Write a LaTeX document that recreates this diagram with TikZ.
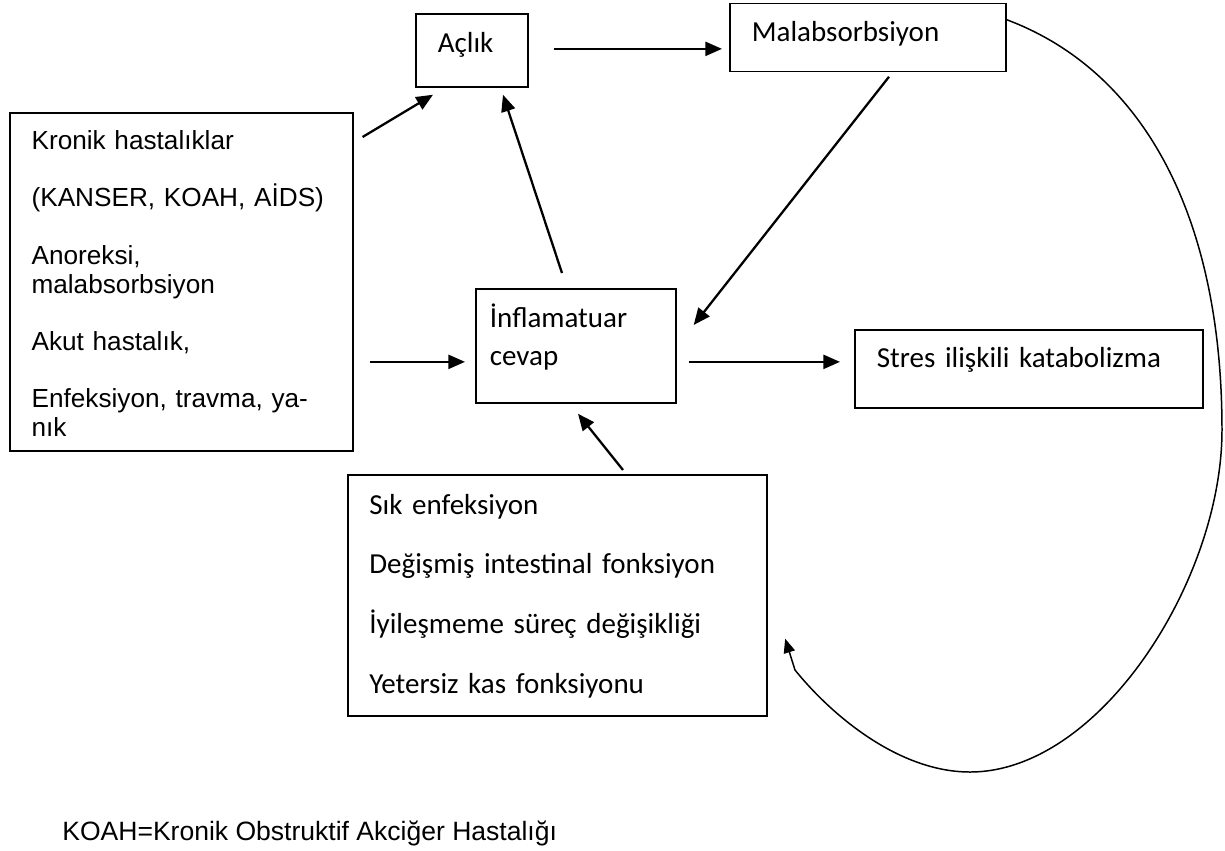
\documentclass[tikz,border=0pt]{standalone}
\usepackage{fontspec}
\setmainfont{Carlito}
\newfontfamily\arialfont{Liberation Sans}
\usetikzlibrary{calc,arrows.meta}

\tikzset{
  box/.style={draw, line width=1pt, anchor=north west, inner ysep=0pt, align=left,
    font=\fontsize{16.5}{20}\selectfont},
  listbox/.style={box, font=\arialfont\fontsize{14.9}{16.5}\selectfont},
  arr/.style={line width=1.3pt, -{Triangle[length=9.5pt,width=8pt]}},
  loop/.style={line width=0.85pt, -{Triangle[length=8pt,width=6.5pt]}}
}

\begin{document}
\begin{tikzpicture}[x=0.02cm, y=-0.02cm]
      \useasboundingbox (0,0) rectangle (1225,850);
      % boxes
      \node[listbox, inner xsep=0.434cm, text width=5.99cm, text height=0.726cm, text depth=6.034cm] (chronic) at (9,112)
        {Kronik hastalıklar\\[16.2pt]
         (KANSER, KOAH, AİDS)\\[16.2pt]
         Anoreksi,\\
         malabsorbsiyon\\[16.2pt]
         Akut hastalık,\\[16.2pt]
         Enfeksiyon, travma, ya-\\
         nık};
      \node[box, inner xsep=0.44cm, text width=1.36cm, text height=0.774cm, text depth=0.686cm] (aclik) at (415,13) {Açlık};
      \node[box, inner xsep=0.44cm, text width=4.64cm, text height=0.76cm, text depth=0.60cm] (malab) at (729,2.7) {Malabsorbsiyon};
      \node[box, inner xsep=0.28cm, text width=3.44cm, text height=0.774cm, text depth=1.506cm] (inflam) at (475,288)
        {İnflamatuar\\[1.8pt] cevap};
      \node[box, inner xsep=0.44cm, text width=6.08cm, text height=0.754cm, text depth=0.806cm] (stres) at (854,329) {Stres ilişkili katabolizma};
      \node[box, inner xsep=0.43cm, text width=7.53cm, text height=0.786cm, text depth=4.034cm] (effects) at (347,474)
        {Sık enfeksiyon\\[14pt]
         Değişmiş intestinal fonksiyon\\[14pt]
         İyileşmeme süreç değişikliği\\[14pt]
         Yetersiz kas fonksiyonu};
      \node[anchor=base west, inner sep=0pt, font=\arialfont\fontsize{15.1}{17}\selectfont] (koah) at (62,840)
        {KOAH=Kronik Obstruktif Akciğer Hastalığı};
      % arrows
      \draw[arr] ($(chronic.north east)+(9,25)$) -- ($(aclik.south west)+(18,7)$);
      \draw[arr] ($(aclik.east)+(25,-1.5)$) -- ($(aclik.east -| malab.west)+(-7,-1.5)$);
      \draw[arr] ($(inflam.north west)+(87,-15)$) -- ($(aclik.south west)+(88,7)$);
      \draw[arr] ($(malab.south west)+(160,4.3)$) -- ($(inflam.north east)+(17,37)$);
      \draw[arr] ($(chronic.east |- inflam.west)+(16,16)$) -- ($(inflam.west)+(-10,16)$);
      \draw[arr] ($(inflam.east)+(12,16)$) -- ($(inflam.east -| stres.west)+(-14,16)$);
      \draw[arr] ($(effects.north west)+(276,-4)$) -- ($(inflam.south west)+(103,10)$);
      % feedback loop
      \draw[loop] ($(malab.north east)+(0,17)$) .. controls (1146,72) and (1222,220) .. (1222,430)
        .. controls (1222,580) and (1100,772) .. (970,772)
        .. controls (900,772) and (833,717) .. (795,670)
        -- ($(effects.south east)+(17,-78)$);
\end{tikzpicture}
\end{document}
